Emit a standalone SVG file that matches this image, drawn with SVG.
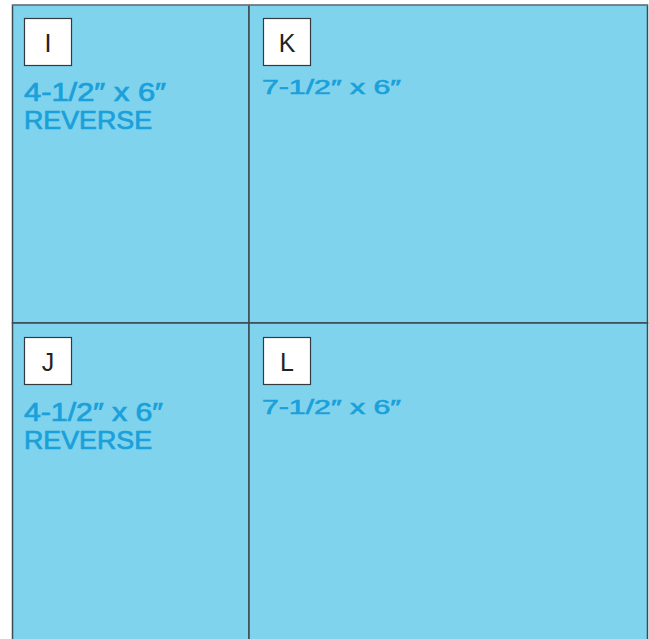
<svg xmlns="http://www.w3.org/2000/svg" width="649" height="639" viewBox="0 0 649 639">
<style>
.cell{fill:#7fd3ed;stroke:#3c4a54;stroke-width:1.5}
.tag{fill:#ffffff;stroke:#333b40;stroke-width:1.2}
.tagt{font-family:"Liberation Sans",Arial,sans-serif;font-size:25px;fill:#222;text-anchor:middle}
.big{font-family:"Liberation Sans",Arial,sans-serif;font-size:25px;fill:#1aa0da;stroke:#1aa0da;stroke-width:0.7}
.sm{font-family:"Liberation Sans",Arial,sans-serif;font-size:20px;fill:#1aa0da;stroke:#1aa0da;stroke-width:0.6}
</style>
<rect x="0" y="0" width="649" height="639" fill="#ffffff"/>
<g id="cells">
<rect class="cell" x="12.5" y="5" width="236.5" height="318"/>
<rect class="cell" x="249" y="5" width="398.5" height="318"/>
<rect class="cell" x="12.5" y="323" width="236.5" height="330"/>
<rect class="cell" x="249" y="323" width="398.5" height="330"/>
<line x1="12" y1="4.8" x2="648" y2="4.8" stroke="#8a9299" stroke-width="1.2"/>
</g>
<g id="node-I">
<rect class="tag" x="24.5" y="18.5" width="47" height="47"/>
<text class="tagt" x="48" y="51.5">I</text>
<text class="big" x="24" y="100.5" textLength="142" lengthAdjust="spacingAndGlyphs">4-1/2″ x 6″</text>
<text class="big" x="24" y="128.5" textLength="128" lengthAdjust="spacingAndGlyphs">REVERSE</text>
</g>
<g id="node-K">
<rect class="tag" x="263.5" y="18.5" width="47" height="47"/>
<text class="tagt" x="287" y="51.5">K</text>
<text class="sm" x="262" y="94" textLength="139" lengthAdjust="spacingAndGlyphs">7-1/2″ x 6″</text>
</g>
<g id="node-J">
<rect class="tag" x="24.5" y="337.5" width="47" height="47"/>
<text class="tagt" x="48" y="371">J</text>
<text class="big" x="24" y="420.5" textLength="139" lengthAdjust="spacingAndGlyphs">4-1/2″ x 6″</text>
<text class="big" x="24" y="448.5" textLength="128" lengthAdjust="spacingAndGlyphs">REVERSE</text>
</g>
<g id="node-L">
<rect class="tag" x="263.5" y="337.5" width="47" height="47"/>
<text class="tagt" x="287" y="371">L</text>
<text class="sm" x="262" y="414" textLength="139" lengthAdjust="spacingAndGlyphs">7-1/2″ x 6″</text>
</g>
<g id="connectors"></g>
</svg>
